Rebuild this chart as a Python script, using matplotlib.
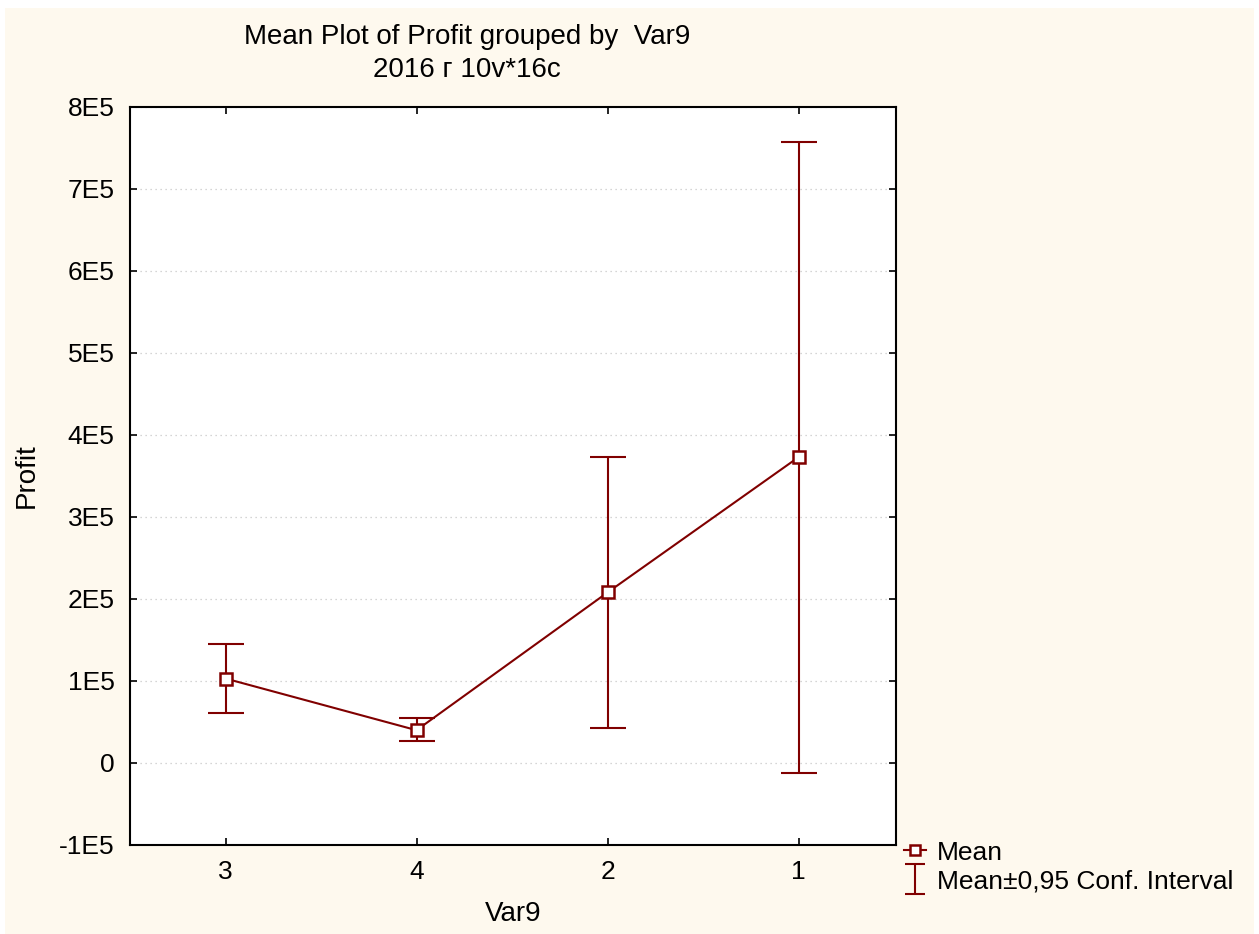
import numpy as np
import matplotlib
matplotlib.use("Agg")
import matplotlib.pyplot as plt
from matplotlib.patches import Rectangle
from matplotlib.lines import Line2D
from matplotlib.path import Path

# group labels as shown on the x axis (in plot order)
groups = ["3", "4", "2", "1"]
means = [1.03e5, 0.40e5, 2.08e5, 3.73e5]
ci_upper = [1.45e5, 0.55e5, 3.73e5, 7.57e5]
ci_lower = [0.61e5, 0.27e5, 0.43e5, -0.12e5]

yticks = [-1e5, 0, 1e5, 2e5, 3e5, 4e5, 5e5, 6e5, 7e5, 8e5]
ytick_labels = ["-1E5", "0", "1E5", "2E5", "3E5", "4E5", "5E5", "6E5", "7E5", "8E5"]

RED = "#800000"
BG = "#FEF9EE"

plt.rcParams["font.family"] = ["Liberation Sans", "DejaVu Sans"]
plt.rcParams["font.size"] = 19

fig = plt.figure(figsize=(12.59, 9.34), dpi=100, facecolor="white")
# cream panel (white strip on top as in the screenshot)
fig.patches.append(Rectangle((5 / 1259, 0), 1249 / 1259, 1 - 8 / 934,
                             transform=fig.transFigure, facecolor=BG,
                             edgecolor="none", zorder=-10))

ax = fig.add_axes([130 / 1259, 1 - 845 / 934, 766 / 1259, 738 / 934])
ax.set_facecolor("white")

x = np.arange(len(groups))
m = np.array(means)
err = [m - np.array(ci_lower), np.array(ci_upper) - m]

ax.errorbar(x, m, yerr=err, fmt="none", ecolor=RED, elinewidth=1.5,
            capsize=13.3, capthick=1.5, zorder=3)
ax.plot(x, m, color=RED, lw=1.5, marker="s", markersize=8,
        markerfacecolor="white", markeredgecolor=RED,
        markeredgewidth=1.8, zorder=4)

ax.set_xlim(-0.5, 3.51)
ax.set_ylim(-1e5, 8e5)
ax.set_xticks(x)
ax.set_xticklabels(groups)
ax.set_yticks(yticks)
ax.set_yticklabels(ytick_labels)
ax.tick_params(direction="in", length=5, width=1.2, top=True, right=True,
               labelsize=19, pad=11)
ax.grid(axis="y", linestyle=(0, (1, 3)), color="#c8c8c8", lw=0.9)
for s in ax.spines.values():
    s.set_linewidth(1.5)

ax.set_xlabel("Var9", fontsize=20, labelpad=12)
ax.set_ylabel("Profit", fontsize=20, labelpad=14)
fig.text(467 / 1259, 1 - 37 / 934, "Mean Plot of Profit grouped by  Var9",
         ha="center", va="center", fontsize=20)
fig.text(467 / 1259, 1 - 70 / 934, "2016 г 10v*16c",
         ha="center", va="center", fontsize=20)

# "I" shaped glyph for the confidence interval legend entry
ci_glyph = Path([(-0.67, -1), (0.67, -1), (0, -1), (0, 1), (-0.67, 1), (0.67, 1)],
                [Path.MOVETO, Path.LINETO, Path.MOVETO, Path.LINETO,
                 Path.MOVETO, Path.LINETO])

handles = [
    Line2D([], [], color=RED, lw=1.5, marker="s", markersize=7,
           markerfacecolor="white", markeredgewidth=1.8),
    Line2D([], [], lw=0, marker=ci_glyph, markersize=22,
           markerfacecolor="none", markeredgecolor=RED, markeredgewidth=1.5),
]
fig.legend(handles, ["Mean", "Mean±0,95 Conf. Interval"],
           loc="upper left", bbox_to_anchor=(893 / 1259, 1 - 829 / 934),
           frameon=False, fontsize=19, handlelength=0.85, handletextpad=0.4,
           labelspacing=0.15, borderaxespad=0, handleheight=0.9)

fig.savefig("out.png", dpi=100, facecolor=fig.get_facecolor())
